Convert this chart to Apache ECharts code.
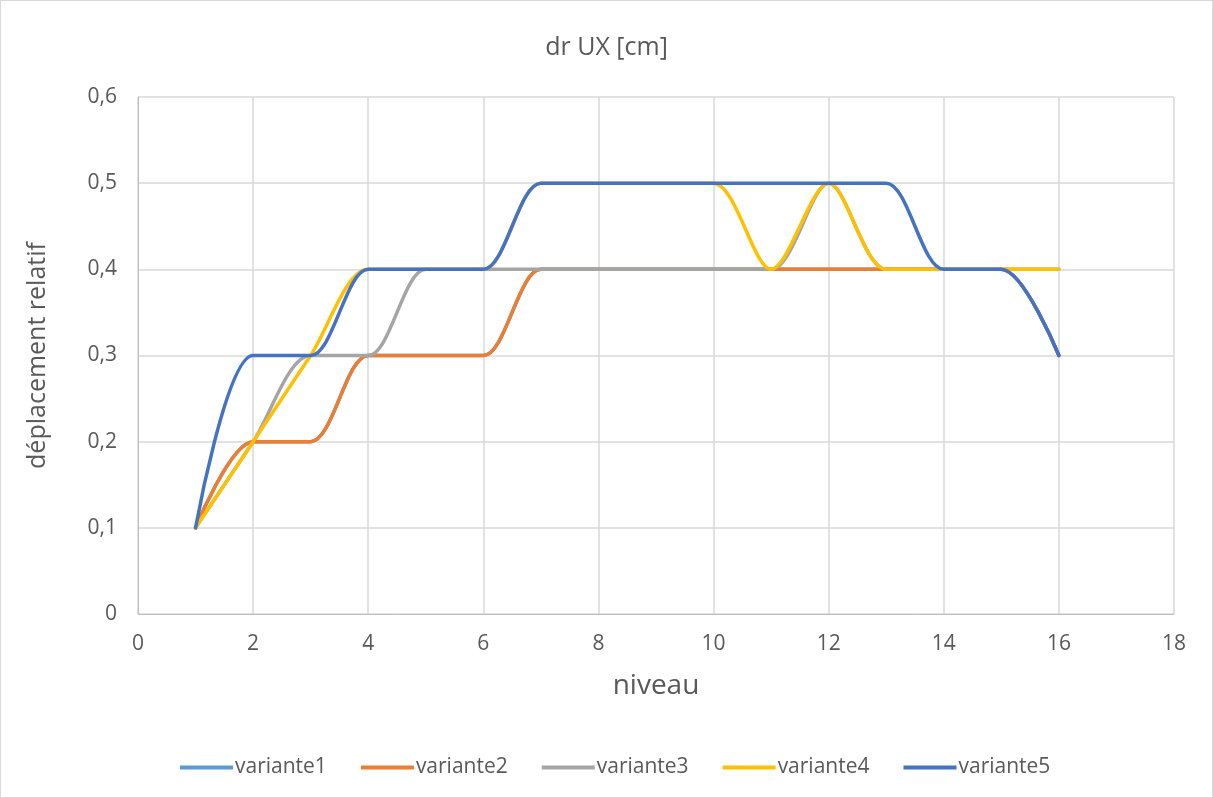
<!DOCTYPE html>
<html><head><meta charset="utf-8">
<script src="https://cdn.jsdelivr.net/npm/echarts@6/dist/echarts.min.js"></script>
<style>html,body{margin:0;padding:0;background:#fff}#c{width:1213px;height:798px;box-sizing:border-box;border:1px solid #d9d9d9}</style>
</head><body><div id="c"></div>
<script>
const niveaux = [1,2,3,4,5,6,7,8,9,10,11,12,13,14,15,16];
const variante1 = [0.1,0.2,0.2,0.3,0.3,0.3,0.4,0.4,0.4,0.4,0.4,0.4,0.4,0.4,0.4,0.3];
const variante2 = [0.1,0.2,0.2,0.3,0.3,0.3,0.4,0.4,0.4,0.4,0.4,0.4,0.4,0.4,0.4,0.3];
const variante3 = [0.1,0.2,0.3,0.3,0.4,0.4,0.4,0.4,0.4,0.4,0.4,0.5,0.4,0.4,0.4,0.4];
const variante4 = [0.1,0.2,0.3,0.4,0.4,0.4,0.5,0.5,0.5,0.5,0.4,0.5,0.4,0.4,0.4,0.4];
const variante5 = [0.1,0.3,0.3,0.4,0.4,0.4,0.5,0.5,0.5,0.5,0.5,0.5,0.5,0.4,0.4,0.3];
const seriesNames = ['variante1','variante2','variante3','variante4','variante5'];
const seriesValues = [variante1,variante2,variante3,variante4,variante5];
const colors = ['#5B9BD5','#ED7D31','#A5A5A5','#FFC000','#4472C4'];
const FONT = 'Open Sans';
const fmt = v => String(Math.round(v*10)/10).replace('.', ',');
const chart = echarts.init(document.getElementById('c'));
chart.setOption({
  animation: false,
  textStyle: {fontFamily: FONT},
  title: {text: 'dr UX [cm]', left: 'center', top: 29, textStyle: {fontFamily: FONT, fontSize: 25, fontWeight: 'normal', color: '#595959'}},
  grid: {left: 137, right: 38, top: 96, bottom: 183, containLabel: false},
  legend: {top: 751, left: 174, itemWidth: 53, itemHeight: 4, itemGap: 34, icon: 'rect',
    textStyle: {fontFamily: FONT, fontSize: 21, color: '#595959', padding: [0,0,0,-3]}, data: seriesNames},
  xAxis: {type: 'value', min: 0, max: 18, interval: 2, name: 'niveau', nameLocation: 'middle', nameGap: 58,
    nameTextStyle: {fontFamily: FONT, fontSize: 28, color: '#595959'},
    axisLine: {lineStyle: {color: '#bfbfbf'}}, axisTick: {show: false},
    axisLabel: {fontSize: 21, color: '#595959', margin: 20},
    splitLine: {show: true, lineStyle: {color: '#d9d9d9', width: 1.5}}},
  yAxis: {type: 'value', min: 0, max: 0.6, interval: 0.1, name: 'déplacement relatif', nameLocation: 'middle', nameGap: 88,
    nameTextStyle: {fontFamily: FONT, fontSize: 25, color: '#595959'},
    axisLine: {show: true, lineStyle: {color: '#bfbfbf'}}, axisTick: {show: false},
    axisLabel: {fontSize: 21, color: '#595959', margin: 21, formatter: fmt},
    splitLine: {show: true, lineStyle: {color: '#d9d9d9', width: 1.5}}},
  series: seriesNames.map((n, i) => ({
    name: n, type: 'line', smooth: 0.3, showSymbol: false, symbol: 'none',
    lineStyle: {width: 3.5, color: colors[i], cap: 'round'}, itemStyle: {color: colors[i]},
    data: niveaux.map((x, j) => [x, seriesValues[i][j]])
  }))
});
</script></body></html>
